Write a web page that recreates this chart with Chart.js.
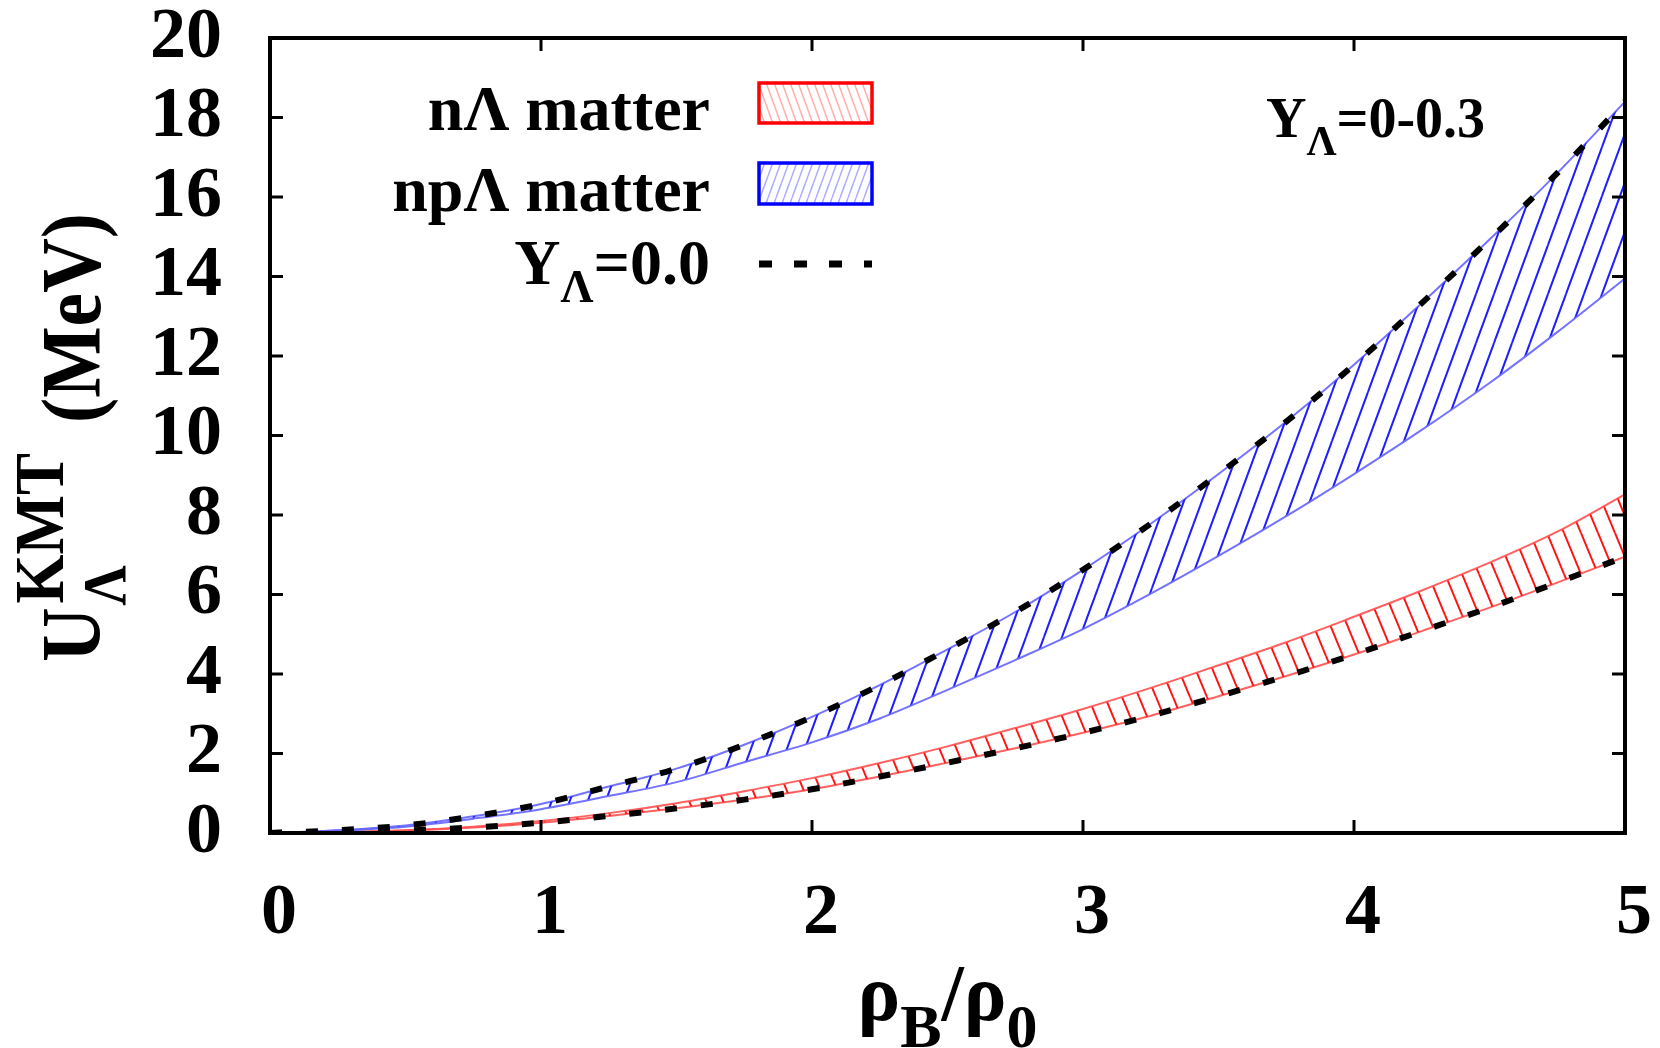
<!DOCTYPE html>
<html>
<head>
<meta charset="utf-8">
<script src="https://cdn.jsdelivr.net/npm/chart.js@4.4.0/dist/chart.umd.min.js"></script>
<style>
  html, body { margin: 0; padding: 0; background: #fff; }
  canvas { display: block; }
</style>
</head>
<body>
<canvas id="chart" width="1660" height="1048"></canvas>
<script>
// density rho_B / rho_0
const rho = [0, 0.25, 0.5, 0.75, 1, 1.25, 1.5, 1.75, 2, 2.25, 2.5, 2.75, 3, 3.25, 3.5, 3.75, 4, 4.25, 4.5, 4.75, 5];
// npΛ matter, Y_Λ = 0 (dashed, top of blue band) and Y_Λ = 0.3 (bottom of blue band)
const npY0  = [0, 0.07, 0.19, 0.42, 0.73, 1.17, 1.62, 2.22, 2.92, 3.72, 4.62, 5.56, 6.62, 7.78, 9.03, 10.35, 11.78, 13.33, 14.93, 16.6, 18.4];
const npY03 = [0, 0.06, 0.16, 0.36, 0.6, 0.93, 1.28, 1.78, 2.28, 2.88, 3.6, 4.35, 5.13, 6.02, 6.97, 7.97, 9.03, 10.14, 11.32, 12.6, 13.95];
// nΛ matter, Y_Λ = 0.3 (top of red band) and Y_Λ = 0 (dashed, bottom of red band)
const nY03 = [0, 0.02, 0.07, 0.16, 0.3, 0.5, 0.75, 1.05, 1.38, 1.76, 2.18, 2.64, 3.12, 3.65, 4.22, 4.8, 5.44, 6.1, 6.8, 7.58, 8.52];
const nY0  = [0, 0.02, 0.06, 0.14, 0.26, 0.43, 0.62, 0.84, 1.1, 1.42, 1.77, 2.13, 2.52, 2.95, 3.44, 3.95, 4.49, 5.08, 5.67, 6.3, 6.95];
const xTicks = [0, 1, 2, 3, 4, 5];
const yTicks = [0, 2, 4, 6, 8, 10, 12, 14, 16, 18, 20];

const serif = '"Liberation Serif", "Times New Roman", serif';
const font = s => `bold ${s}px ${serif}`;
const pts = arr => rho.map((r, i) => ({x: r, y: arr[i]}));

// diagonal line pattern, dir 1 = "/", -1 = "\"
function hatch(color, lw, w, h, dir) {
  const c = document.createElement('canvas');
  c.width = w; c.height = h;
  const g = c.getContext('2d');
  g.strokeStyle = color; g.lineWidth = lw;
  g.beginPath();
  for (let k = -1; k <= 1; k++) {
    if (dir > 0) { g.moveTo(k * w, h); g.lineTo(k * w + w, 0); }
    else { g.moveTo(k * w, 0); g.lineTo(k * w + w, h); }
  }
  g.stroke();
  return g.createPattern(c, 'repeat');
}

const blueHatch = hatch('rgb(30,30,255)', 2, 18, 49, 1);
const redHatch = hatch('rgb(255,20,20)', 2, 17, 41, -1);
const blueLight = hatch('rgba(120,120,255,0.6)', 1.5, 8, 22, 1);
const redLight = hatch('rgba(255,120,120,0.6)', 1.5, 8, 22, -1);

// text pieces [text, size, dy], drawn one after the other, sx squeezes along the text
function run(ctx, pieces, x, y, sx) {
  ctx.save();
  ctx.translate(x, y);
  ctx.scale(sx, 1);
  let cx = 0;
  for (const [s, size, dy] of pieces) {
    ctx.font = font(size);
    ctx.fillText(s, cx, dy);
    cx += ctx.measureText(s).width;
  }
  ctx.restore();
  return cx * sx;
}
function runWidth(ctx, pieces, sx) {
  let w = 0;
  for (const [s, size] of pieces) { ctx.font = font(size); w += ctx.measureText(s).width; }
  return w * sx;
}

const framePlugin = {
  id: 'frame',
  afterDatasetsDraw(chart) {
    const {ctx, chartArea: a, scales: {x, y}} = chart;
    ctx.save();
    ctx.strokeStyle = '#000';
    ctx.lineWidth = 3;
    ctx.beginPath();
    xTicks.forEach(v => {
      const px = x.getPixelForValue(v);
      ctx.moveTo(px, a.bottom); ctx.lineTo(px, a.bottom - 13);
      ctx.moveTo(px, a.top); ctx.lineTo(px, a.top + 13);
    });
    yTicks.forEach(v => {
      const py = y.getPixelForValue(v);
      ctx.moveTo(a.left, py); ctx.lineTo(a.left + 13, py);
      ctx.moveTo(a.right, py); ctx.lineTo(a.right - 13, py);
    });
    ctx.stroke();
    ctx.lineWidth = 4;
    ctx.strokeRect(a.left, a.top, a.width, a.height);
    ctx.restore();
  }
};

const textPlugin = {
  id: 'texts',
  afterDraw(chart) {
    const ctx = chart.ctx;
    ctx.save();
    ctx.fillStyle = '#000';
    ctx.textBaseline = 'alphabetic';
    ctx.textAlign = 'left';

    // legend
    const right = 710;
    let p = [['nΛ matter', 64, 0]];
    run(ctx, p, right - runWidth(ctx, p, 1), 130, 1);
    p = [['npΛ matter', 64, 0]];
    run(ctx, p, right - runWidth(ctx, p, 1), 211, 1);
    p = [['Y', 64, 0], ['Λ', 46, 18], ['=0.0', 64, 0]];
    run(ctx, p, right - runWidth(ctx, p, 1), 284, 1);

    ctx.fillStyle = redLight; ctx.fillRect(759, 83, 113, 40);
    ctx.fillStyle = blueLight; ctx.fillRect(759, 163, 113, 41);
    ctx.lineWidth = 3.5;
    ctx.strokeStyle = 'rgb(255,0,0)'; ctx.strokeRect(759, 83, 113, 40);
    ctx.strokeStyle = 'rgb(0,0,255)'; ctx.strokeRect(759, 163, 113, 41);
    ctx.strokeStyle = '#000'; ctx.lineWidth = 7;
    ctx.setLineDash([13, 22]);
    ctx.beginPath(); ctx.moveTo(759, 264); ctx.lineTo(872, 264); ctx.stroke();
    ctx.setLineDash([]);

    // annotation
    ctx.fillStyle = '#000';
    run(ctx, [['Y', 56, 0], ['Λ', 42, 18], ['=0-0.3', 56, 0]], 1266, 137, 1);

    // x title
    p = [['ρ', 80, 0], ['B', 62, 27], ['/', 80, 0], ['ρ', 80, 0], ['0', 62, 27]];
    const cx = (chart.chartArea.left + chart.chartArea.right) / 2;
    run(ctx, p, cx - runWidth(ctx, p, 1) / 2, 1020, 1);

    // y title, rotated
    ctx.save();
    ctx.translate(100, 662);
    ctx.rotate(-Math.PI / 2);
    const sq = 0.9;
    const piece = (s, size, u, v) => {
      ctx.save(); ctx.translate(u, v); ctx.scale(sq, 1);
      ctx.font = font(size); ctx.fillText(s, 0, 0);
      const w = ctx.measureText(s).width * sq;
      ctx.restore();
      return w;
    };
    const wU = piece('U', 84, 0, 0);
    piece('Λ', 62, wU + 2, 25);
    const wK = piece('KMT', 70, wU + 4, -37);
    piece('(MeV)', 84, wU + 4 + wK + 30, 0);
    ctx.restore();

    ctx.restore();
  }
};

const tickFont = {family: serif, size: 72, weight: 'bold', lineHeight: 1};

new Chart(document.getElementById('chart').getContext('2d'), {
  type: 'line',
  data: {
    datasets: [
      { data: pts(npY03), borderColor: 'rgba(100,100,255,0.9)', borderWidth: 2,
        fill: '+1', backgroundColor: blueHatch, order: 3 },
      { data: pts(npY0), borderColor: 'rgba(100,100,255,0.9)', borderWidth: 2, fill: false, order: 3 },
      { data: pts(nY03), borderColor: 'rgba(255,80,80,0.9)', borderWidth: 2,
        fill: '+1', backgroundColor: redHatch, order: 3 },
      { data: pts(nY0), borderColor: 'rgba(255,80,80,0.9)', borderWidth: 2, fill: false, order: 3 },
      { data: pts(npY0), borderColor: '#000', borderWidth: 6, borderDash: [12, 24], fill: false, order: 1 },
      { data: pts(nY0), borderColor: '#000', borderWidth: 6, borderDash: [12, 24], fill: false, order: 1 }
    ]
  },
  options: {
    responsive: false,
    devicePixelRatio: 1,
    animation: false,
    layout: { autoPadding: false, padding: { left: 150, top: 38, right: 35, bottom: 98 } },
    elements: {
      point: { radius: 0 },
      line: { cubicInterpolationMode: 'monotone', borderCapStyle: 'butt' }
    },
    plugins: { legend: { display: false }, tooltip: { enabled: false } },
    scales: {
      x: {
        type: 'linear', min: 0, max: 5,
        grid: { display: false, drawTicks: false },
        border: { display: false },
        ticks: { stepSize: 1, font: tickFont, color: '#000', padding: 45, labelOffset: 9,
                 maxRotation: 0, autoSkip: false },
        afterFit(s) { s.height = 117; s.paddingLeft = 0; s.paddingRight = 0; }
      },
      y: {
        min: 0, max: 20,
        grid: { display: false, drawTicks: false },
        border: { display: false },
        ticks: { stepSize: 2, font: tickFont, color: '#000', padding: 48, autoSkip: false },
        afterFit(s) { s.width = 120; s.paddingTop = 0; s.paddingBottom = 0; }
      }
    }
  },
  plugins: [framePlugin, textPlugin]
});
</script>
</body>
</html>
